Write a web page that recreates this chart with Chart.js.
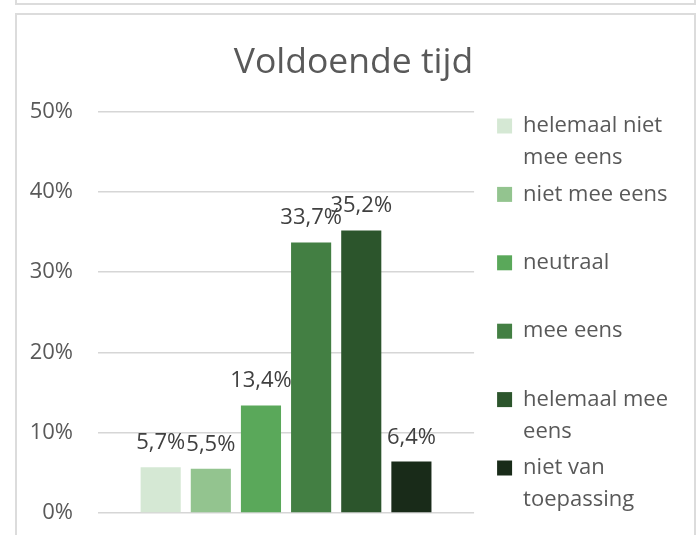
<!DOCTYPE html>
<html>
<head>
<meta charset="utf-8">
<script src="https://cdn.jsdelivr.net/npm/chart.js@4.4.1/dist/chart.umd.min.js"></script>
<style>
  html, body { margin: 0; padding: 0; background: #fff; }
  #wrap { position: relative; width: 700px; height: 535px; overflow: hidden; }
  .frame { position: absolute; box-sizing: border-box; border: 2px solid #dcdcdc; background: #fff; }
  #prev { left: 15px; top: -100px; width: 681px; height: 105px; }
  #card { left: 15px; top: 13px; width: 681px; height: 600px; }
  #box { position: absolute; left: 0; top: 0; width: 700px; height: 535px; }
</style>
</head>
<body>
<div id="wrap">
  <div class="frame" id="prev"></div>
  <div class="frame" id="card"></div>
  <div id="box"><canvas id="chart"></canvas></div>
</div>
<script>
const title = 'Voldoende tijd'
const categories = [
  ['helemaal niet', 'mee eens'],
  ['niet mee eens', ''],
  ['neutraal', ''],
  ['mee eens', ''],
  ['helemaal mee', 'eens'],
  ['niet van', 'toepassing']
]
const values = [5.7, 5.5, 13.4, 33.7, 35.2, 6.4]
const colors = ['#d5e8d4', '#93c48f', '#5aa85a', '#437f43', '#2c552c', '#192b19']
const yTicks = [0, 10, 20, 30, 40, 50]

const fmt = v => v.toFixed(1).replace('.', ',') + '%'

// labels boven de staven
const valueLabels = {
  id: 'valueLabels',
  afterDatasetsDraw (chart) {
    const ctx = chart.ctx
    ctx.save()
    ctx.font = '22px "Open Sans"'
    ctx.fillStyle = '#404040'
    ctx.textAlign = 'center'
    ctx.textBaseline = 'alphabetic'
    chart.data.datasets.forEach((ds, i) => {
      chart.getDatasetMeta(i).data.forEach((bar, j) => {
        ctx.fillText(fmt(ds.data[j]), bar.x, bar.y - 18)
      })
    })
    ctx.restore()
  }
}

Chart.defaults.font.family = '"Open Sans", sans-serif'
Chart.defaults.color = '#595959'

const ctx = document.getElementById('chart').getContext('2d')
const chart = new Chart(ctx, {
  type: 'bar',
  data: {
    labels: [title],
    datasets: categories.map((c, i) => ({
      label: c,
      data: [values[i]],
      backgroundColor: colors[i],
      borderWidth: 0,
      barPercentage: 0.8,
      categoryPercentage: 0.8
    }))
  },
  options: {
    responsive: true,
    maintainAspectRatio: false,
    animation: false,
    layout: { padding: { left: 29, right: 22, top: 0, bottom: 0 } },
    plugins: {
      tooltip: { enabled: false },
      title: {
        display: true,
        text: title,
        color: '#595959',
        font: { size: 35.5, weight: 'normal', lineHeight: 1.2 },
        padding: { top: 42, bottom: 27 }
      },
      legend: {
        position: 'right',
        align: 'start',
        maxWidth: 300,
        // lege titel als ruimte boven de eerste legenda-regel
        title: { display: true, text: ' ', font: { size: 1, lineHeight: 1 }, padding: { top: 0, bottom: 110 } },
        labels: {
          boxWidth: 15,
          boxHeight: 15,
          padding: 4,
          color: '#595959',
          font: { size: 22, lineHeight: 32.2 / 22 }
        }
      }
    },
    scales: {
      x: {
        ticks: { display: false },
        grid: { display: false },
        border: { display: false },
        afterFit: s => { s.height = 22 }
      },
      y: {
        min: 0,
        max: 50,
        afterBuildTicks: s => { s.ticks = yTicks.map(v => ({ value: v })) },
        ticks: { padding: 0, font: { size: 22 }, color: '#595959', callback: v => v + '%' },
        grid: { color: '#d6d6d6', lineWidth: 1.5, drawTicks: true, tickLength: 25, tickColor: 'rgba(0,0,0,0)' },
        border: { display: false },
        afterFit: s => { s.width = 69 }
      },
      y2: {
        position: 'right',
        display: true,
        ticks: { display: false },
        grid: { display: false },
        border: { display: false },
        afterFit: s => { s.width = 19 }
      }
    }
  },
  plugins: [valueLabels]
})
</script>
</body>
</html>
